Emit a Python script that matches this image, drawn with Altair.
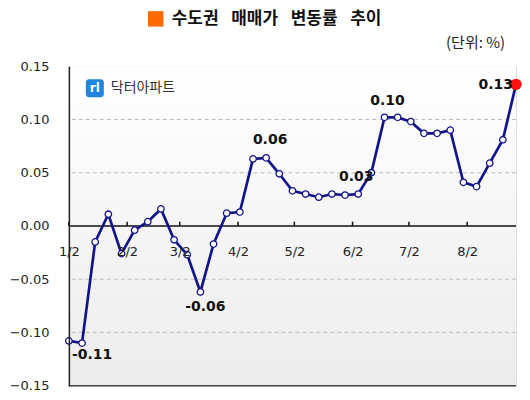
import altair as alt
import pandas as pd

# ---- data ----
dates = [
    "2009-01-02", "2009-01-09", "2009-01-16", "2009-01-23", "2009-01-30",
    "2009-02-06", "2009-02-13", "2009-02-20", "2009-02-27", "2009-03-06",
    "2009-03-13", "2009-03-20", "2009-03-27", "2009-04-03", "2009-04-10",
    "2009-04-17", "2009-04-24", "2009-05-01", "2009-05-08", "2009-05-15",
    "2009-05-22", "2009-05-29", "2009-06-05", "2009-06-12", "2009-06-19",
    "2009-06-26", "2009-07-03", "2009-07-10", "2009-07-17", "2009-07-24",
    "2009-07-31", "2009-08-07", "2009-08-14", "2009-08-21", "2009-08-28",
]
values = [
    -0.108, -0.110, -0.015, 0.011, -0.026, -0.004, 0.004, 0.016, -0.013, -0.027,
    -0.062, -0.017, 0.012, 0.013, 0.063, 0.064, 0.049, 0.033, 0.030, 0.027,
    0.030, 0.029, 0.030, 0.050, 0.102, 0.102, 0.098, 0.087, 0.087, 0.090,
    0.041, 0.037, 0.059, 0.081, 0.133,
]
tick_dates = ["2009-01-02", "2009-02-02", "2009-03-02", "2009-04-02",
              "2009-05-02", "2009-06-02", "2009-07-02", "2009-08-02"]
y_ticks = [-0.15, -0.10, -0.05, 0.00, 0.05, 0.10, 0.15]
grid_values = [-0.10, -0.05, 0.05, 0.10]
label_index = [1, 10, 15, 22, 24, 34]
label_text = ["-0.11", "-0.06", "0.06", "0.03", "0.10", "0.13"]

title_text = "\u2002\u2005".join(["수도권", "매매가", "변동률", "추이"])
unit_text = "(단위: %)"
logo_text = "닥터아파트"

# ---- layout ----
W, H = 448, 320
NUM_FONT = "DejaVu Sans"
KR_FONT = "Noto Sans CJK KR"
NAVY = "#14148a"

df = pd.DataFrame({"date": dates, "value": values})
df["idx"] = range(len(df))
ticks_df = pd.DataFrame({"date": tick_dates})
grid_df = pd.DataFrame({"v": grid_values})

x_scale = alt.Scale(type="utc", domain=[dates[0], dates[-1]])
X = alt.X("date:T", scale=x_scale, title=None,
          axis=alt.Axis(values=[alt.DateTime(year=int(d[:4]), month=int(d[5:7]),
                                             date=int(d[8:]), utc=True) for d in tick_dates],
                        format="%-m/%-d", offset=-160, domain=False, ticks=False,
                        grid=False, labelPadding=20, labelFont=NUM_FONT,
                        labelFontSize=13, labelColor="#222", labelFlush=False,
                        zindex=2))
Y = alt.Y("value:Q", scale=alt.Scale(domain=[-0.15, 0.15], nice=False, zero=False),
          title=None,
          axis=alt.Axis(values=y_ticks, format=".2f", grid=False, ticks=False,
                        domainColor="#222", domainWidth=1.5, labelPadding=20,
                        labelFont=NUM_FONT, labelFontSize=13, labelColor="#222",
                        zindex=2))

base = alt.Chart(df)

bg = alt.Chart(pd.DataFrame({"a": [0]})).mark_rect(
    color=alt.LinearGradient(gradient="linear", x1=0, x2=0, y1=0, y2=1,
                             stops=[alt.GradientStop(offset=0, color="#ffffff"),
                                    alt.GradientStop(offset=1, color="#ececec")])
).encode(x=alt.value(0), x2=alt.value(W), y=alt.value(0), y2=alt.value(H))

grid = alt.Chart(grid_df).mark_rule(color="#bdbdbd", strokeDash=[4, 3], strokeWidth=1).encode(
    y=alt.Y("v:Q"))

zero = alt.Chart(pd.DataFrame({"a": [0]})).mark_rule(color="#111", strokeWidth=1.5).encode(
    y=alt.datum(0))
bottom = alt.Chart(pd.DataFrame({"a": [0]})).mark_rule(color="#444", strokeWidth=1.5).encode(
    y=alt.datum(-0.15))
tickmarks = alt.Chart(ticks_df).mark_rule(color="#111", strokeWidth=1.5).encode(
    x="date:T", y=alt.datum(0), y2=alt.datum(0.004))

axes = base.mark_point(opacity=0).encode(x=X, y=Y)
line = base.mark_line(color=NAVY, strokeWidth=2.7).encode(x="date:T", y="value:Q")
pts = base.transform_filter(alt.datum.idx < len(dates) - 1).mark_point(
    shape="circle", filled=True, fill="white", stroke=NAVY, strokeWidth=1.3, size=42, opacity=1
).encode(x="date:T", y="value:Q")
last = base.transform_filter(alt.datum.idx == len(dates) - 1).mark_point(
    shape="circle", filled=True, color="#ff1111", size=130, opacity=1
).encode(x="date:T", y="value:Q")

offsets = [(10, 12, "center"), (5, 15, "center"), (4, -18, "center"),
           (-2, -17, "center"), (3, -16, "center"), (-3, 1, "right")]
labels = []
for i, t, (dx, dy, al) in zip(label_index, label_text, offsets):
    labels.append(
        base.transform_filter(alt.datum.idx == i).mark_text(
            text=t, dx=dx, dy=dy, align=al, baseline="middle", font=NUM_FONT,
            fontSize=14, fontWeight="bold", color="#111"
        ).encode(x="date:T", y="value:Q")
    )

one = pd.DataFrame({"a": [0]})
sq = alt.Chart(one).mark_square(color="#ff6a00", size=240, opacity=1).encode(
    x=alt.value(87), y=alt.value(-47.5))
title = alt.Chart(one).mark_text(text=title_text, align="left", baseline="middle",
                                 font=KR_FONT, fontSize=17, fontWeight="bold",
                                 color="#111").encode(x=alt.value(103), y=alt.value(-47))
unit = alt.Chart(one).mark_text(text=unit_text, align="right", baseline="middle",
                                font=KR_FONT, fontSize=15, color="#222").encode(
    x=alt.value(437), y=alt.value(-23))
logo_box = alt.Chart(one).mark_rect(color="#1f86e0", cornerRadius=3).encode(
    x=alt.value(17), x2=alt.value(35), y=alt.value(13), y2=alt.value(31))
logo_glyph = alt.Chart(one).mark_text(text="rl", align="center", baseline="middle",
                                      font=NUM_FONT, fontSize=12, fontWeight="bold",
                                      color="white").encode(x=alt.value(26), y=alt.value(22))
logo = alt.Chart(one).mark_text(text=logo_text, align="left", baseline="middle",
                                font=KR_FONT, fontSize=14, color="#333").encode(
    x=alt.value(42), y=alt.value(22))

chart = alt.layer(
    bg, axes, grid, zero, bottom, tickmarks, line, pts, last, *labels,
    sq, title, unit, logo_box, logo_glyph, logo
).properties(
    width=W, height=H,
    autosize=alt.AutoSizeParams(type="none"),
    padding={"left": 61, "top": 58, "right": 6, "bottom": 6},
).configure_view(stroke="#a0a0a0", strokeWidth=1).configure(background="white")

chart.save("out.html", embed_options={"renderer": "svg", "actions": False})
